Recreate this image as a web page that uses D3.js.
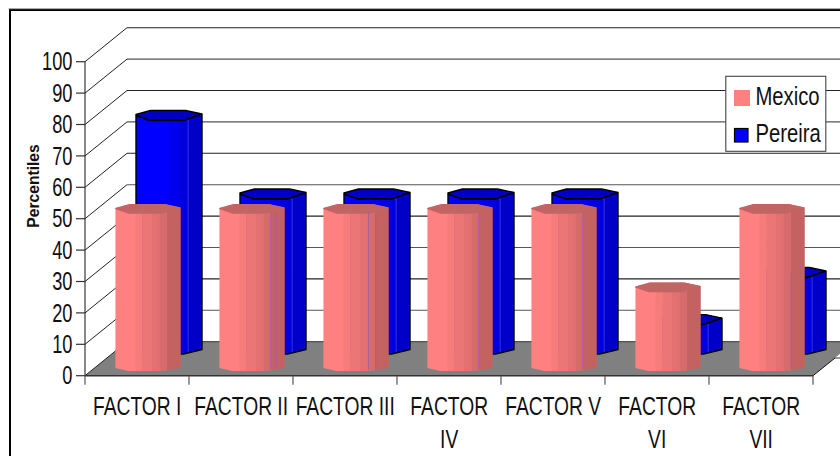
<!DOCTYPE html>
<html>
<head>
<meta charset="utf-8">
<script src="https://cdn.jsdelivr.net/npm/d3@7/dist/d3.min.js"></script>
<style>
  html, body { margin: 0; padding: 0; background: #fff; overflow: hidden; }
  svg { display: block; }
  text { font-family: "Liberation Sans", Arial, sans-serif; fill: #111; }
</style>
</head>
<body>
<script>
// Survey factors and percentile scores per group
const categories = ["FACTOR I", "FACTOR II", "FACTOR III", "FACTOR IV", "FACTOR V", "FACTOR VI", "FACTOR VII"];
const categoryLines = [["FACTOR I"], ["FACTOR II"], ["FACTOR III"], ["FACTOR", "IV"], ["FACTOR V"], ["FACTOR", "VI"], ["FACTOR", "VII"]];
const mexico = [50, 50, 50, 50, 50, 25, 50];
const pereira = [75, 50, 50, 50, 50, 10, 25];
const yTicks = d3.range(0, 101, 10);
const seriesNames = ["Mexico", "Pereira"];

const W = 840, H = 456;
const svg = d3.select("body").append("svg").attr("width", W).attr("height", H);

// Oblique box: front plane plus a fixed depth offset for the back wall
const x0 = 85, x1 = 813, depthX = 42, depthY = 34;
const x = d3.scaleBand().domain(categories).range([x0, x1]);
const y = d3.scaleLinear().domain([0, 100]).range([375.7, 61.7]);

// Narrow glyphs: text is squeezed horizontally around its anchor
function label(g, str, px, py, size, sx, anchor, extra) {
  const t = g.append("text")
    .attr("transform", `translate(${px},${py}) scale(${sx},1)`)
    .attr("text-anchor", anchor)
    .attr("font-size", size)
    .text(str);
  if (extra) extra(t);
  return t;
}

// Floor
const floorBack = y(0) - depthY;
svg.append("polygon")
  .attr("points", [[x0, y(0)], [x0 + depthX, floorBack], [W, floorBack], [W, 353.8], [x1, y(0)]].join(" "))
  .attr("fill", "#808080");
svg.append("line").attr("x1", x1).attr("y1", y(0)).attr("x2", 835).attr("y2", 358)
  .attr("stroke", "#111").attr("stroke-width", 1);
svg.append("line").attr("x1", 835).attr("y1", 358).attr("x2", W).attr("y2", 358)
  .attr("stroke", "#333").attr("stroke-width", 1);

// Back wall grid and side wall diagonals
yTicks.forEach((v, i) => {
  const yy = y(v);
  if (v > 0) {
    svg.append("line")
      .attr("x1", x0 + depthX).attr("x2", W)
      .attr("y1", yy - depthY).attr("y2", yy - depthY)
      .attr("stroke", i % 2 ? "#555" : "#222").attr("stroke-width", 1.1);
  }
  svg.append("line")
    .attr("x1", x0).attr("y1", yy)
    .attr("x2", x0 + depthX).attr("y2", yy - depthY)
    .attr("stroke", "#222").attr("stroke-width", 1);
});
svg.append("line").attr("x1", x0 + depthX).attr("x2", W).attr("y1", floorBack).attr("y2", floorBack)
  .attr("stroke", "#333").attr("stroke-width", 1);

// Value axis
svg.append("line").attr("x1", x0).attr("x2", x0).attr("y1", y(100)).attr("y2", y(0))
  .attr("stroke", "#111").attr("stroke-width", 1);
yTicks.forEach(v => {
  svg.append("line").attr("x1", x0 - 9).attr("x2", x0).attr("y1", y(v)).attr("y2", y(v))
    .attr("stroke", "#333").attr("stroke-width", 1.2);
  label(svg, v, 72.5, y(v) + 8.6, 25, 0.73, "end");
});

// Category axis
svg.append("line").attr("x1", x0).attr("x2", x1).attr("y1", y(0)).attr("y2", y(0))
  .attr("stroke", "#333").attr("stroke-width", 1.4);
categories.concat([null]).forEach((c, i) => {
  const tx = c ? x(c) : x1;
  svg.append("line").attr("x1", tx).attr("x2", tx).attr("y1", y(0)).attr("y2", y(0) + 9)
    .attr("stroke", "#555").attr("stroke-width", 1.2);
  if (c) {
    categoryLines[i].forEach((ln, k) => {
      label(svg, ln, tx + x.bandwidth() / 2 + 0.2, 414.7 + k * 33, 25, 0.77, "middle");
    });
  }
});

// Faceted cylinder drawing
const styles = {
  Mexico: {
    dx: 11, dy: 9.7, width: 65.5, top: "#C06464", outline: "none", outlineWidth: 0,
    baseEdge: [2, 5, 5, 2],
    facets: [[0, 0.31, "#FF8080"], [0.31, 0.41, "#F67B7B"], [0.41, 0.56, "#EC7676"],
             [0.56, 0.68, "#E37171"], [0.68, 0.79, "#D76B6B"], [0.79, 1, "#C46262"]]
  },
  Pereira: {
    dx: 32, dy: 24.7, width: 66, top: "#0000C4", outline: "#000", outlineWidth: 1.4,
    baseEdge: [0, 3, 3, -1.5],
    facets: [[0, 0.5, "#0000FF"], [0.5, 0.66, "#0000EE"], [0.66, 0.79, "#0000DC"], [0.79, 1, "#0000C8"]]
  }
};
const frontTop = d3.scaleLinear().domain([0, 0.2, 0.72, 1]).range([0, 4.8, 4.8, -1.5]);
const backTop = d3.scaleLinear().domain([0, 0.22, 0.75, 1]).range([-1, -5, -5, -1.5]);
const facetKnots = [0, 0.2, 0.72, 1];
const backKnots = [0, 0.22, 0.75, 1];

let clipId = 0;
function cylinder(name, cat, value) {
  const s = styles[name];
  const g = svg.append("g").attr("class", name);
  const left = x(cat) + x.bandwidth() / 2 + s.dx - s.width / 2;
  const base = y(0) - s.dy;
  const topY = base - (y(0) - y(value));
  const px = f => left + f * s.width;

  const backEdge = backKnots.map(f => [px(f), topY + backTop(f)]);
  const frontEdgeTop = facetKnots.map(f => [px(f), topY + frontTop(f)]);
  const frontEdgeBase = facetKnots.map((f, k) => [px(f), base + s.baseEdge[k]]);
  const silhouette = backEdge.concat(frontEdgeBase.slice().reverse());

  const id = "bar" + (clipId++);
  g.append("clipPath").attr("id", id).append("polygon").attr("points", silhouette.join(" "));
  const body = g.append("g").attr("clip-path", `url(#${id})`);
  s.facets.forEach(([a, b, color]) => {
    body.append("rect")
      .attr("x", px(a)).attr("width", (b - a) * s.width + 0.5)
      .attr("y", topY - 6).attr("height", base - topY + 14)
      .attr("fill", color);
  });
  if (name === "Pereira") {
    body.append("line").attr("x1", px(0.79)).attr("x2", px(0.79))
      .attr("y1", topY).attr("y2", base + 6).attr("stroke", "#3A3AF0").attr("stroke-width", 0.8);
  }
  const cap = backEdge.concat(frontEdgeTop.slice().reverse());
  g.append("polygon").attr("points", cap.join(" ")).attr("fill", s.top);
  if (s.outlineWidth) {
    g.append("polygon").attr("points", silhouette.join(" "))
      .attr("fill", "none").attr("stroke", s.outline).attr("stroke-width", s.outlineWidth)
      .attr("stroke-linejoin", "round");
    g.append("polyline").attr("points", frontEdgeTop.join(" "))
      .attr("fill", "none").attr("stroke", s.outline).attr("stroke-width", s.outlineWidth + 0.4);
  }
  return { px, topY, base };
}

categories.forEach((c, i) => cylinder("Pereira", c, pereira[i]));

// Rear bar edges showing faintly through the front bars
const seeThrough = [[], [0.78, 0.87], [0.69, 0.8], [0.78], [0.78], [], [0.79]];
categories.forEach((c, i) => {
  const m = cylinder("Mexico", c, mexico[i]);
  const pereiraTop = y(0) - styles.Pereira.dy - (y(0) - y(pereira[i]));
  seeThrough[i].forEach(f => {
    svg.append("line")
      .attr("x1", m.px(f)).attr("x2", m.px(f))
      .attr("y1", Math.max(m.topY + 3, pereiraTop)).attr("y2", m.base + 3)
      .attr("stroke", "#9A5FA8").attr("stroke-width", 0.8);
  });
});

// Axis title
label(svg, "Percentiles", 0, 0, 17, 0.92, "middle", t => {
  t.attr("transform", "translate(38.5,186) rotate(-90) scale(0.92,1)").attr("font-weight", "bold");
});

// Legend
const legend = svg.append("g");
legend.append("rect").attr("x", 725.8).attr("y", 76.3).attr("width", 100).attr("height", 75)
  .attr("fill", "#fff").attr("stroke", "#444").attr("stroke-width", 1.1);
legend.append("rect").attr("x", 734).attr("y", 90).attr("width", 16).attr("height", 16).attr("fill", "#FF8080");
legend.append("rect").attr("x", 734.5).attr("y", 128.5).attr("width", 13.5).attr("height", 13.5)
  .attr("fill", "#0000FF").attr("stroke", "#000").attr("stroke-width", 1.2);
label(legend, seriesNames[0], 755.5, 105, 25, 0.81, "start");
label(legend, seriesNames[1], 755.5, 141.5, 25, 0.81, "start");

// Outer frame, running off the right and bottom of the page
svg.append("rect").attr("x", 10).attr("y", 10).attr("width", 900).attr("height", 600)
  .attr("fill", "none").attr("stroke", "#000").attr("stroke-width", 2);
svg.append("line").attr("x1", 8.5).attr("x2", W).attr("y1", 8.7).attr("y2", 8.7)
  .attr("stroke", "#999").attr("stroke-width", 1);
</script>
</body>
</html>
